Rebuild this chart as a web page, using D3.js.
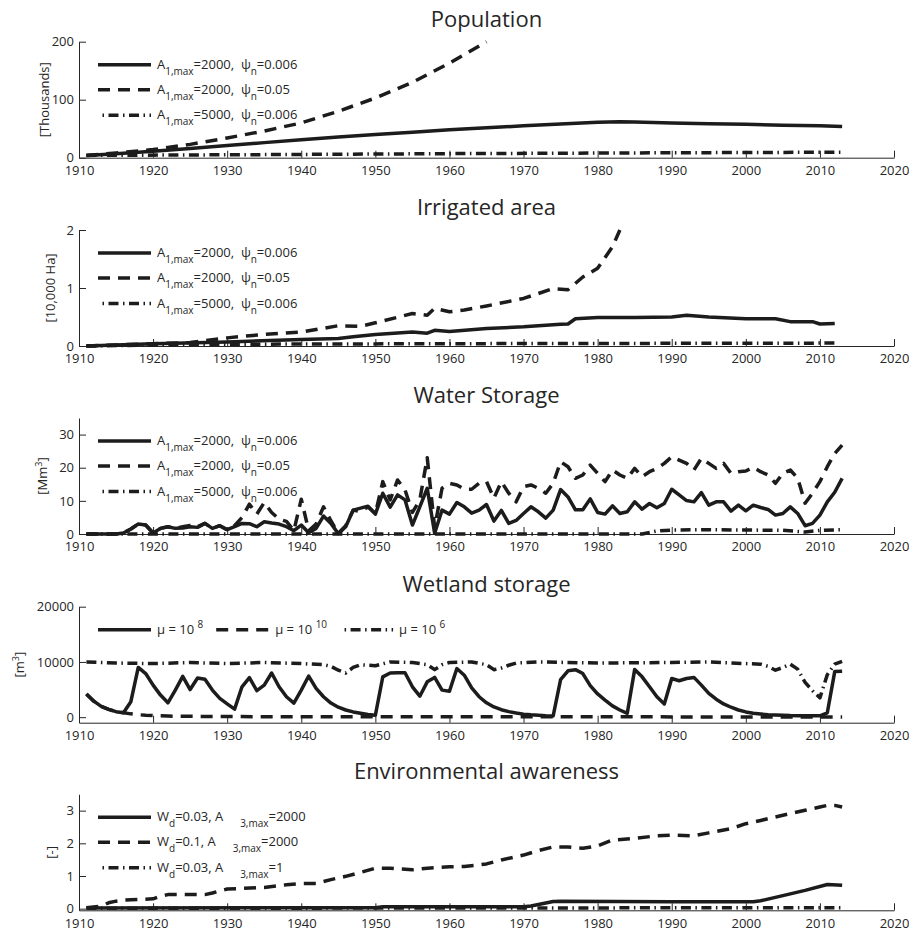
<!DOCTYPE html>
<html>
<head>
<meta charset="utf-8">
<script src="https://cdn.jsdelivr.net/npm/d3@7"></script>
<style>
body { margin: 0; background: #fff; }
svg text { font-family: "Open Sans", sans-serif; fill: #262626; }
</style>
</head>
<body>
<svg id="chart" width="909" height="932"></svg>
<script>
// ---- data ----
var xTicks = [1910, 1920, 1930, 1940, 1950, 1960, 1970, 1980, 1990, 2000, 2010, 2020];

// Population [thousands]
var popTicks = [0, 100, 200];
var popSolid = [[1911,4],[1915,7],[1920,11],[1925,16],[1930,21],[1935,26],[1940,31],[1945,35.5],[1950,40],[1955,44],[1960,48],[1965,51.5],[1970,55],[1975,58],[1980,61],[1983,62],[1985,61.5],[1990,60],[1995,58.5],[2000,57.5],[2005,56],[2010,55],[2013,54]];
var popDashed = [[1911,4],[1915,8],[1920,14],[1925,23],[1930,34],[1935,46],[1940,60],[1945,80],[1950,103],[1955,130],[1960,163],[1965,200]];
var popDashDot = [[1911,4],[1930,5],[1960,7],[1990,8.5],[2013,9.5]];
var popLegend = ["A_{1,max}=2000,  ψ_{n}=0.006", "A_{1,max}=2000,  ψ_{n}=0.05", "A_{1,max}=5000,  ψ_{n}=0.006"];

// Irrigated area [10,000 Ha]
var irrTicks = [0, 1, 2];
var irrSolid = [[1911,0],[1920,0.04],[1930,0.07],[1940,0.11],[1945,0.13],[1947,0.16],[1950,0.2],[1955,0.24],[1957,0.22],[1958,0.27],[1960,0.25],[1965,0.3],[1970,0.33],[1975,0.375],[1976,0.38],[1977,0.47],[1980,0.49],[1985,0.49],[1990,0.5],[1992,0.53],[1995,0.5],[2000,0.47],[2004,0.47],[2006,0.42],[2009,0.42],[2010,0.38],[2012,0.39]];
var irrDashed = [[1911,0],[1920,0.04],[1925,0.06],[1930,0.14],[1935,0.2],[1940,0.24],[1945,0.35],[1948,0.34],[1950,0.4],[1955,0.56],[1957,0.53],[1958,0.65],[1960,0.59],[1962,0.62],[1965,0.69],[1970,0.82],[1974,0.99],[1976,0.97],[1978,1.19],[1980,1.34],[1982,1.71],[1983,2.0]];
var irrDashDot = [[1911,0],[1930,0.03],[1960,0.04],[2012,0.05]];
var irrLegend = popLegend;

// Water storage [Mm3]
var stoTicks = [0, 10, 20, 30];
var stoSolid = [[1911,0],[1912,0],[1913,0],[1914,0],[1915,0],[1916,0.3],[1917,1.5],[1918,3],[1919,2.7],[1920,0.3],[1921,1.7],[1922,2.2],[1923,1.7],[1924,1.8],[1925,2.2],[1926,2],[1927,3.2],[1928,1.7],[1929,2.5],[1930,1.3],[1931,2.2],[1932,3.2],[1933,3.1],[1934,2.2],[1935,3.7],[1936,3.3],[1937,3.0],[1938,2.2],[1939,1.0],[1940,2.7],[1941,0.4],[1942,1.7],[1943,5.4],[1944,3.2],[1945,0.1],[1946,2.2],[1947,7.2],[1948,7.8],[1949,8.4],[1950,6.0],[1951,12.3],[1952,8.1],[1953,11.8],[1954,10.3],[1955,2.7],[1956,8.2],[1957,13.8],[1958,0.2],[1959,7.2],[1960,6.0],[1961,9.5],[1962,8.2],[1963,6.3],[1964,7.2],[1965,8.9],[1966,3.9],[1967,7.1],[1968,3.2],[1969,4.1],[1970,6.2],[1971,8.2],[1972,6.7],[1973,4.8],[1974,7.2],[1975,13.4],[1976,11.2],[1977,7.3],[1978,7.3],[1979,10.6],[1980,6.5],[1981,6.0],[1982,8.5],[1983,6.2],[1984,6.7],[1985,9.7],[1986,7.5],[1987,9.2],[1988,7.9],[1989,9.2],[1990,13.5],[1991,11.8],[1992,10.1],[1993,9.7],[1994,12.5],[1995,8.7],[1996,9.7],[1997,9.7],[1998,6.9],[1999,8.7],[2000,7.0],[2001,8.7],[2002,8.0],[2003,7.4],[2004,5.7],[2005,6.2],[2006,8.2],[2007,6.2],[2008,2.5],[2009,3.2],[2010,5.7],[2011,9.7],[2012,12.6],[2013,16.8]];
var stoDashed = [[1911,0],[1912,0],[1913,0],[1914,0],[1915,0],[1916,0.3],[1917,1.5],[1918,3],[1919,2.7],[1920,0.3],[1921,1.7],[1922,2.2],[1923,1.7],[1924,2.2],[1925,2.6],[1926,2.2],[1927,3.2],[1928,1.7],[1929,2.5],[1930,1.3],[1931,2.5],[1932,5.0],[1933,9.0],[1934,6.0],[1935,9.5],[1936,6.5],[1937,4.5],[1938,3.8],[1939,1.0],[1940,10.5],[1941,1.0],[1942,3.0],[1943,8.2],[1944,4.0],[1945,0.2],[1946,2.5],[1947,7.2],[1948,6.8],[1949,8.2],[1950,6.2],[1951,15.8],[1952,10.3],[1953,16.3],[1954,13.3],[1955,6.5],[1956,10.3],[1957,23.0],[1958,2.0],[1959,13.8],[1960,15.3],[1961,14.8],[1962,13.5],[1963,13.5],[1964,15.3],[1965,15.8],[1966,10.8],[1967,15.8],[1968,12.3],[1969,9.7],[1970,14.3],[1971,14.8],[1972,13.8],[1973,12.3],[1974,15.3],[1975,21.8],[1976,20.3],[1977,16.8],[1978,17.8],[1979,20.8],[1980,18.3],[1981,15.8],[1982,19.3],[1983,17.8],[1984,16.8],[1985,19.8],[1986,17.3],[1987,18.8],[1988,19.8],[1989,21.3],[1990,23.3],[1991,22.3],[1992,21.3],[1993,19.3],[1994,22.8],[1995,21.3],[1996,19.8],[1997,21.3],[1998,18.3],[1999,18.8],[2000,19.0],[2001,20.1],[2002,18.8],[2003,17.8],[2004,15.3],[2005,18.3],[2006,19.3],[2007,16.8],[2008,9.3],[2009,12.3],[2010,15.8],[2011,20.3],[2012,24.3],[2013,26.8]];
var stoDashDot = [[1911,0],[1986,0],[1988,0.9],[1990,1.2],[1995,1.3],[2000,1.2],[2005,1.1],[2008,0.6],[2010,1.1],[2013,1.3]];
var stoLegend = popLegend;

// Wetland storage [m3]
var wetTicks = [0, 10000, 20000];
var wetSolid = [[1911,4200],[1912,2900],[1913,1950],[1914,1400],[1915,1000],[1916,800],[1917,2800],[1918,9000],[1919,7900],[1920,5800],[1921,4000],[1922,2600],[1923,4900],[1924,7400],[1925,5000],[1926,7100],[1927,6850],[1928,4900],[1929,3400],[1930,2400],[1931,1450],[1932,5500],[1933,7150],[1934,4800],[1935,5800],[1936,8000],[1937,5500],[1938,3700],[1939,2550],[1940,4900],[1941,7450],[1942,5200],[1943,3700],[1944,2550],[1945,1800],[1946,1300],[1947,950],[1948,700],[1949,480],[1950,350],[1951,7300],[1952,8000],[1953,8050],[1954,8050],[1955,5500],[1956,3800],[1957,6400],[1958,7200],[1959,4900],[1960,4700],[1961,8800],[1962,7600],[1963,5300],[1964,3700],[1965,2600],[1966,1850],[1967,1350],[1968,1000],[1969,750],[1970,550],[1971,420],[1972,330],[1973,260],[1974,220],[1975,6800],[1976,8400],[1977,8600],[1978,7900],[1979,5700],[1980,4200],[1981,3100],[1982,2050],[1983,1300],[1984,700],[1985,8650],[1986,7300],[1987,5500],[1988,3700],[1989,2400],[1990,7000],[1991,6600],[1992,7000],[1993,7200],[1994,5800],[1995,4300],[1996,3250],[1997,2400],[1998,1800],[1999,1300],[2000,950],[2001,700],[2002,570],[2003,460],[2004,400],[2005,340],[2006,290],[2007,270],[2008,260],[2009,250],[2010,250],[2011,800],[2012,8250],[2013,8300]];
var wetDashed = [[1911,4200],[1912,2900],[1913,1950],[1914,1400],[1915,1000],[1916,800],[1917,600],[1918,450],[1919,350],[1920,280],[1922,200],[1925,150],[1930,110],[1940,80],[1960,60],[2013,50]];
var wetDashDot = [[1911,10000],[1915,9800],[1920,9700],[1925,9900],[1930,9700],[1935,9900],[1940,9700],[1943,9500],[1944,9200],[1945,8500],[1946,8000],[1947,9000],[1948,9500],[1950,9300],[1952,10000],[1955,9900],[1957,9500],[1958,8600],[1959,9500],[1960,9900],[1963,10000],[1965,9500],[1966,8600],[1967,8900],[1968,9400],[1969,9800],[1972,10000],[1980,9800],[1990,9900],[1995,10000],[2000,9700],[2002,9600],[2003,9200],[2004,8500],[2005,9000],[2006,9600],[2007,8700],[2008,6300],[2009,4800],[2010,3500],[2011,7700],[2012,9600],[2013,10100]];
var wetLegend = ["μ = 10 ^{8}", "μ = 10 ^{10}", "μ = 10 ^{6}"];

// Environmental awareness [-]
var envTicks = [0, 1, 2, 3];
var envSolid = [[1911,0.02],[1950,0.03],[1951,0.06],[1970,0.06],[1971,0.08],[1974,0.22],[1975,0.23],[1990,0.21],[2001,0.21],[2002,0.24],[2005,0.4],[2008,0.56],[2011,0.74],[2013,0.72]];
var envDashed = [[1911,0.03],[1913,0.08],[1914,0.18],[1915,0.23],[1916,0.26],[1918,0.28],[1920,0.3],[1921,0.38],[1922,0.43],[1925,0.43],[1927,0.43],[1928,0.48],[1930,0.6],[1935,0.65],[1938,0.73],[1940,0.77],[1942,0.77],[1944,0.89],[1946,0.99],[1948,1.11],[1950,1.24],[1952,1.24],[1955,1.19],[1957,1.24],[1960,1.28],[1962,1.29],[1964,1.34],[1965,1.37],[1967,1.49],[1970,1.64],[1972,1.78],[1974,1.89],[1976,1.89],[1978,1.85],[1980,1.92],[1982,2.1],[1985,2.15],[1988,2.23],[1990,2.25],[1993,2.23],[1995,2.32],[1998,2.45],[2000,2.6],[2002,2.7],[2005,2.86],[2008,3.01],[2010,3.11],[2011,3.16],[2012,3.16],[2013,3.11]];
var envDashDot = [[1911,0.01],[1960,0.02],[2013,0.03]];
var envLegend = ["W_{d}=0.03, A     _{3,max}=2000", "W_{d}=0.1, A     _{3,max}=2000", "W_{d}=0.03, A     _{3,max}=1"];

// ---- layout ----
var svg = d3.select("#chart");
var x = d3.scaleLinear().domain([1910, 2020]).range([79, 894]);
var panelH = 116;
var ink = "#1c1c1c";
var styles = [null, "12,8", "10,4.5,1.5,4.5"];

var panels = [
    {title: "Population", ylabel: "[Thousands]", sup: null, top: 41.7, domain: [0, 200], ticks: popTicks, series: [popSolid, popDashed, popDashDot], legend: popLegend, labelX: 44},
    {title: "Irrigated area", ylabel: "[10,000 Ha]", sup: null, top: 230, domain: [0, 2], ticks: irrTicks, series: [irrSolid, irrDashed, irrDashDot], legend: irrLegend, labelX: 50},
    {title: "Water Storage", ylabel: "[Mm", sup: "3", top: 418, domain: [0, 35], ticks: stoTicks, series: [stoSolid, stoDashed, stoDashDot], legend: stoLegend, labelX: 42},
    {title: "Wetland storage", ylabel: "[m", sup: "3", top: 606.7, domain: [-1000, 20000], ticks: wetTicks, series: [wetSolid, wetDashed, wetDashDot], legend: wetLegend, labelX: 19, row: true},
    {title: "Environmental awareness", ylabel: "[-]", sup: null, top: 794.3, domain: [-0.05, 3.5], ticks: envTicks, series: [envSolid, envDashed, envDashDot], legend: envLegend, labelX: 51}
];

// writes "a_{sub}b^{sup}" strings as tspans
function richText(sel, str) {
    var parts = str.split(/(_\{[^}]*\}|\^\{[^}]*\})/).filter(function(s) { return s.length; });
    var shift = 0;
    parts.forEach(function(p) {
        if (p[0] === "_" || p[0] === "^") {
            var d = p[0] === "_" ? 6 : -6;
            sel.append("tspan").attr("font-size", 10).attr("dy", d - shift).text(p.slice(2, -1));
            shift = d;
        } else {
            sel.append("tspan").attr("font-size", 13).attr("dy", -shift).text(p);
            shift = 0;
        }
    });
}

panels.forEach(function(p) {
    var bottom = p.top + panelH;
    var y = d3.scaleLinear().domain(p.domain).range([bottom, p.top]);
    var g = svg.append("g");

    g.append("text")
        .attr("x", (x.range()[0] + x.range()[1]) / 2)
        .attr("y", p.top - 15)
        .attr("text-anchor", "middle")
        .attr("font-size", 22)
        .text(p.title);

    var xa = g.append("g")
        .attr("transform", "translate(0," + bottom + ")")
        .call(d3.axisBottom(x).tickValues(xTicks).tickFormat(d3.format("d"))
            .tickSizeInner(-7).tickSizeOuter(0).tickPadding(8));
    var ya = g.append("g")
        .attr("transform", "translate(" + x.range()[0] + ",0)")
        .call(d3.axisLeft(y).tickValues(p.ticks).tickFormat(d3.format("d"))
            .tickSizeInner(-7).tickSizeOuter(0).tickPadding(5));
    [xa, ya].forEach(function(a) {
        a.selectAll("path, line").attr("stroke", "#262626");
        a.selectAll("text").attr("font-size", 13).attr("fill", "#262626")
            .style("font-family", "'Open Sans', sans-serif");
    });

    var yl = g.append("text")
        .attr("transform", "translate(" + p.labelX + "," + (p.top + panelH / 2) + ") rotate(-90)")
        .attr("text-anchor", "middle")
        .attr("dy", "0.35em")
        .attr("font-size", 13);
    yl.append("tspan").text(p.ylabel);
    if (p.sup) {
        yl.append("tspan").attr("font-size", 9).attr("dy", -5).text(p.sup);
        yl.append("tspan").attr("dy", 5).text("]");
    }

    var line = d3.line().x(function(d) { return x(d[0]); }).y(function(d) { return y(d[1]); });
    p.series.forEach(function(s, i) {
        g.append("path")
            .datum(s)
            .attr("d", line)
            .attr("fill", "none")
            .attr("stroke", ink)
            .attr("stroke-width", 3.5)
            .attr("stroke-linejoin", "round")
            .attr("stroke-dasharray", styles[i]);
    });

    // legend
    var cx = 98;
    p.legend.forEach(function(lab, i) {
        var ly = p.row ? p.top + 23 : p.top + [23, 48, 73.5][i];
        var lx = p.row ? cx : 98;
        g.append("line")
            .attr("x1", lx).attr("x2", lx + 53)
            .attr("y1", ly).attr("y2", ly)
            .attr("stroke", ink).attr("stroke-width", 3.5)
            .attr("stroke-dasharray", styles[i])
            .attr("stroke-dashoffset", i === 2 ? 10 : 0);
        var t = g.append("text")
            .attr("x", lx + 59).attr("y", ly + 4)
            .style("white-space", "pre");
        richText(t, lab);
        cx = lx + 59 + t.node().getComputedTextLength() + 13;
    });
});
</script>
</body>
</html>
